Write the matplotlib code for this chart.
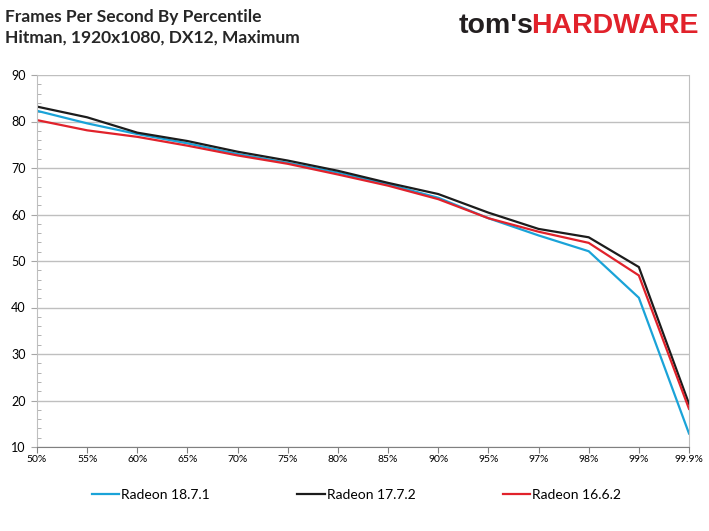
import matplotlib
matplotlib.use("Agg")
import matplotlib.pyplot as plt
from matplotlib.ticker import MultipleLocator

plt.rcParams["font.family"] = ["Lato", "DejaVu Sans"]

percentiles = ["50%", "55%", "60%", "65%", "70%", "75%", "80%", "85%",
               "90%", "95%", "97%", "98%", "99%", "99.9%"]
radeon_1871 = [82.3, 79.6, 77.3, 75.3, 73.0, 71.1, 69.0, 66.5, 63.6, 59.2, 55.5, 52.1, 42.1, 12.9]
radeon_1772 = [83.2, 80.9, 77.6, 75.8, 73.5, 71.6, 69.4, 66.8, 64.4, 60.4, 56.9, 55.1, 48.7, 19.3]
radeon_1662 = [80.3, 78.1, 76.7, 74.8, 72.7, 70.9, 68.6, 66.2, 63.3, 59.2, 56.3, 53.9, 46.9, 18.2]

series = [("Radeon 18.7.1", radeon_1871, "#1aa3d8"),
          ("Radeon 17.7.2", radeon_1772, "#1c1c1c"),
          ("Radeon 16.6.2", radeon_1662, "#e1222b")]

fig = plt.figure(figsize=(7.09, 5.31), dpi=100)
ax = fig.add_axes([37 / 709, 1 - 447 / 531, (689 - 37) / 709, (447 - 75) / 531])

x = list(range(len(percentiles)))
for name, vals, color in series:
    ax.plot(x, vals, color=color, lw=1.6, label=name, solid_joinstyle="miter")

ax.set_xlim(0, len(percentiles) - 1)
ax.set_ylim(10, 90)
ax.set_xticks(x)
ax.set_xticklabels(percentiles, fontsize=7.5)
ax.yaxis.set_major_locator(MultipleLocator(10))
ax.yaxis.set_minor_locator(MultipleLocator(2))
ax.tick_params(axis="y", which="major", labelsize=9, length=4, color="#a6a6a6", pad=4)
ax.tick_params(axis="y", which="minor", length=3, direction="in", color="#a6a6a6")
ax.tick_params(axis="x", length=4, color="#808080", pad=2)
ax.grid(axis="y", which="major", color="#bfbfbf", lw=1)
ax.set_axisbelow(True)
for side in ("left", "right"):
    ax.spines[side].set_color("#bfbfbf")
ax.spines["bottom"].set_color("#808080")
ax.spines["top"].set_visible(False)

fig.text(5 / 709, 1 - 17 / 531, "Frames Per Second By Percentile",
         fontsize=12.5, fontweight="bold", color="#262626", va="center")
fig.text(5 / 709, 1 - 38 / 531, "Hitman, 1920x1080, DX12, Maximum",
         fontsize=12.5, fontweight="bold", color="#262626", va="center")

# logo
logo_font = ["Liberation Sans", "DejaVu Sans"]
logo = fig.text(699 / 709, 1 - 33 / 531, "HARDWARE", fontsize=20.5,
                fontweight="bold", color="#e1222b", ha="right", va="baseline",
                family=logo_font)
fig.canvas.draw()
bb = logo.get_window_extent()
fig.text((bb.x0 + 2) / 709, 1 - 33 / 531, "tom's", fontsize=20.5,
         fontweight="bold", color="#231f20", ha="right", va="baseline",
         family=logo_font)

fig.legend(loc="center left", bbox_to_anchor=(92 / 709, 1 - 495 / 531), ncol=3,
           frameon=False, fontsize=10, handlelength=1.95, handletextpad=0.15,
           columnspacing=6.3, borderpad=0, borderaxespad=0)

fig.savefig("out.png", dpi=100)
